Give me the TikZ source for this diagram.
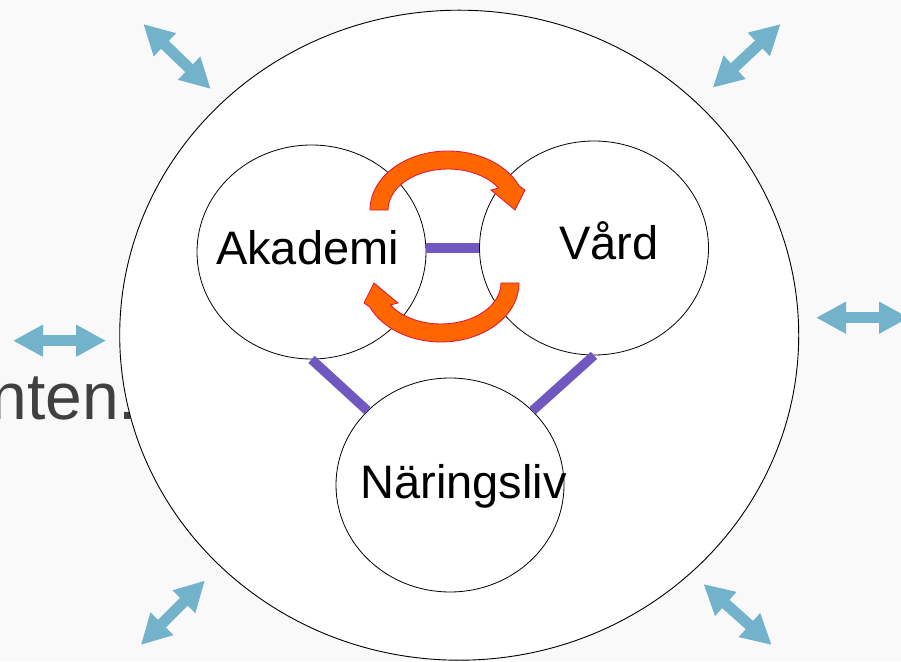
\documentclass[tikz,border=0pt]{standalone}
\usepackage{fontspec}
\setmainfont{Liberation Sans}
\usetikzlibrary{arrows.meta,shapes.geometric}
\definecolor{bgc}{RGB}{249,249,249}
\definecolor{bluearr}{RGB}{114,178,202}
\definecolor{purp}{RGB}{112,88,192}
\definecolor{orf}{RGB}{255,102,0}
\definecolor{ord}{RGB}{220,20,60}
\definecolor{txtgray}{RGB}{64,64,64}
\begin{document}
\begin{tikzpicture}[x=1pt,y=1pt,
  circ/.style={draw=black,line width=0.8pt,fill=white,ellipse,inner sep=0pt},
  lbl/.style={font=\fontsize{47}{50}\selectfont,inner sep=0pt,anchor=base},
  link/.style={draw=purp,line width=9.5pt},
  dbl/.style={draw=bluearr,line width=11pt,{Triangle[width=30pt,length=30pt]}-{Triangle[width=30pt,length=30pt]}},
  swirl/.style={fill=orf,draw=ord,line width=0.8pt}]
\useasboundingbox (0,0) rectangle (901,661);
\clip (0,0) rectangle (901,661);
\fill[bgc] (0,0) rectangle (901,661);
% partly hidden background text
\node[anchor=base west,inner sep=0pt,text=txtgray,font=\fontsize{66}{70}\selectfont] (bgtext) at (-9.8,241) {nten.};
% big circle
\node[circ,line width=0.9pt,minimum width=679pt,minimum height=650pt] (big) at (459.2,325.8) {};
% three circles
\node[circ,minimum width=229pt,minimum height=214pt] (ak) at (311.5,409) {};
\node[circ,minimum width=229pt,minimum height=214pt] (vd) at (594,413) {};
\node[circ,minimum width=228pt,minimum height=214pt] (nar) at (450,176) {};
% purple links
\draw[link] (ak.east |- vd.west) -- (vd.west);
\draw[link] (ak.south) -- (nar.138);
\draw[link] (vd.south) -- (nar.42.6);
% orange curved arrows
\begin{scope}[shift={(448,451)}]
  \filldraw[swirl] (-78,0) arc[start angle=180, end angle=24, x radius=78pt, y radius=59pt]
    -- (77,20) -- (67,0) -- (43,20) -- (50.6,22)
    arc[start angle=32.5, end angle=180, x radius=60pt, y radius=41pt] -- cycle;
\end{scope}
\begin{scope}[shift={(441,378)},rotate=180]
  \filldraw[swirl] (-78,0) arc[start angle=180, end angle=24, x radius=78pt, y radius=59pt]
    -- (77,20) -- (67,0) -- (43,20) -- (50.6,22)
    arc[start angle=32.5, end angle=180, x radius=60pt, y radius=41pt] -- cycle;
\end{scope}
% labels
\node[lbl] (akl) at (307.5,396) {Akademi};
\node[lbl] (vdl) at (609,401) {Vård};
\node[lbl] (narl) at (463.5,162) {Näringsliv};
% blue double arrows
\coordinate (tl1) at (143.3,637); \coordinate (tl2) at (210.7,572);
\coordinate (tr1) at (780.7,637); \coordinate (tr2) at (712.7,573.3);
\coordinate (l1) at (13,320.3); \coordinate (l2) at (106,320.3);
\coordinate (r1) at (816,343.3); \coordinate (r2) at (909,343.3);
\coordinate (bl1) at (140.8,16); \coordinate (bl2) at (205,80.5);
\coordinate (br1) at (703.4,77); \coordinate (br2) at (771.8,16);
\draw[dbl] (tl1) -- (tl2);
\draw[dbl] (tr1) -- (tr2);
\draw[dbl] (l1) -- (l2);
\draw[dbl] (r1) -- (r2);
\draw[dbl] (bl1) -- (bl2);
\draw[dbl] (br1) -- (br2);
\end{tikzpicture}
\end{document}
